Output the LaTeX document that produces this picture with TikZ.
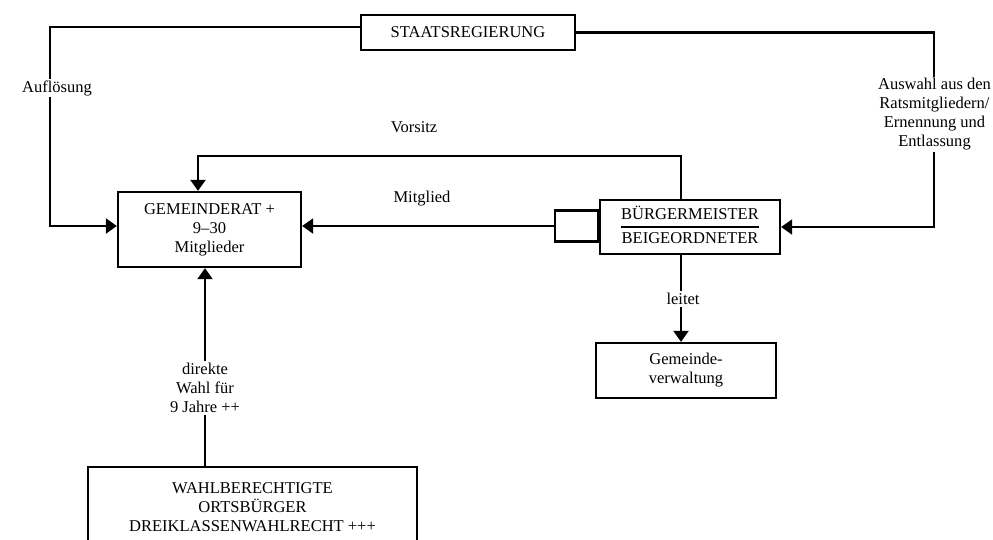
\documentclass[tikz,border=0pt]{standalone}
\usepackage{fontspec}
\setmainfont{Liberation Serif}
\usetikzlibrary{arrows.meta}
\tikzset{
  box/.style={draw, line width=1.3pt, rectangle, inner sep=0pt, align=center},
  lbl/.style={fill=white, inner sep=1pt, align=center},
  conn/.style={line width=1.2pt},
  arr/.style={conn, -{Triangle[length=0.22cm, width=0.3cm]}},
  every node/.style={font=\fontsize{9.4}{10.8}\selectfont}
}
\begin{document}
\begin{tikzpicture}[x=0.02cm, y=-0.02cm]
\useasboundingbox (0,0) rectangle (993,539);
\clip (0,0) rectangle (993,539);
% boxes
\node[box, minimum width=214*0.02cm, minimum height=35*0.02cm] (st) at (468,32.5) {STAATSREGIERUNG};
\node[box, minimum width=183*0.02cm, minimum height=75*0.02cm] (gr) at (209.5,229.5) {GEMEINDERAT +\\9--30\\Mitglieder};
\node[box, minimum width=180*0.02cm, minimum height=54*0.02cm] (bm) at (690,227)
  {\renewcommand\arraystretch{1.22}\setlength\arrayrulewidth{0.7pt}\begin{tabular}{@{}c@{}}BÜRGERMEISTER\\\hline BEIGEORDNETER\end{tabular}};
\node[box, minimum width=43*0.02cm, minimum height=31*0.02cm, anchor=east] (sb) at ([yshift=0.02cm]bm.west) {};
\node[box, minimum width=180*0.02cm, minimum height=55*0.02cm] (gv) at (686,370.5) {Gemeinde-\\verwaltung};
\node[box, minimum width=329*0.02cm, minimum height=80*0.02cm] (wb) at (252.5,507) {WAHLBERECHTIGTE\\ORTSBÜRGER\\DREIKLASSENWAHLRECHT +++};
% helper coordinates
\coordinate (xl) at (50,0);
\coordinate (xr) at (934,0);
\coordinate (xv) at (681,0);
\coordinate (xg) at (198,0);
\coordinate (xw) at (205,0);
\coordinate (yv) at (0,156);
\coordinate (yc) at (0,226);
% connectors
\draw[arr] ([yshift=0.11cm]st.west) -| (xl |- yc) -- (gr.west |- yc);
\draw[arr] (st.east) -| (xr |- bm.east) -- (bm.east);
\draw[arr] (bm.north -| xv) -- (xv |- yv) -| (gr.north -| xg);
\draw[arr] (sb.west) -- (gr.east |- sb.west);
\draw[arr] (bm.south -| xv) -- (gv.north -| xv);
\draw[arr] (wb.north -| xw) -- (gr.south -| xw);
% labels
\node[lbl] (l1) at (57,88) {Auflösung};
\node[lbl] (l2) at (934.5,114.5) {Auswahl aus den\\Ratsmitgliedern/\\Ernennung und\\Entlassung};
\node[lbl, fill=none] (l3) at (414,127) {Vorsitz};
\node[lbl, fill=none] (l4) at (422,199) {Mitglied};
\node[lbl] (l5) at (683,299) {leitet};
\node[lbl] (l6) at (205,388) {direkte\\Wahl für\\9 Jahre ++};
\end{tikzpicture}
\end{document}
